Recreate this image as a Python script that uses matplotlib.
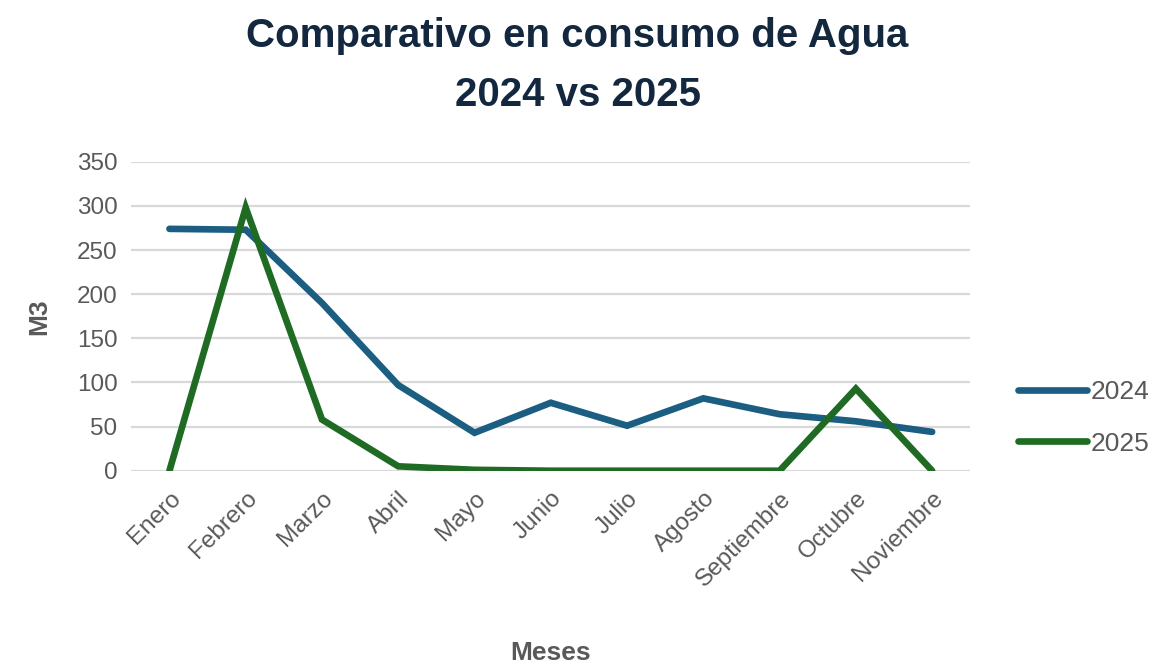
import matplotlib
matplotlib.use("Agg")
import matplotlib.pyplot as plt
import numpy as np

plt.rcParams.update({
    "font.family": ["Liberation Sans", "DejaVu Sans"],
})

meses = ["Enero", "Febrero", "Marzo", "Abril", "Mayo", "Junio",
         "Julio", "Agosto", "Septiembre", "Octubre", "Noviembre"]
consumo_2024 = [274, 273, 190, 97, 43, 77, 51, 82, 64, 56, 44]
consumo_2025 = [0, 298, 58, 5, 1, 0, 0, 0, 0, 93, 0]

C_2024 = "#1b5e82"
C_2025 = "#1f6b24"
C_TEXT = "#595959"
C_TITLE = "#13283f"

fig = plt.figure(figsize=(11.62, 6.63), dpi=100)
ax = fig.add_axes([0.113, 0.29, 0.722, 0.466])

x = np.arange(len(meses))
ax.plot(x, consumo_2024, color=C_2024, lw=4.8, solid_capstyle="round",
        solid_joinstyle="miter", label="2024")
ax.plot(x, consumo_2025, color=C_2025, lw=4.8, solid_capstyle="round",
        solid_joinstyle="miter", label="2025")

ax.set_xlim(-0.5, len(meses) - 0.5)
ax.set_ylim(0, 350)
ax.set_yticks(np.arange(0, 351, 50))
ax.yaxis.grid(True, color="#d9d9d9", lw=1.6)
ax.set_axisbelow(True)
for s in ax.spines.values():
    s.set_visible(False)
ax.tick_params(length=0, labelsize=17.5, colors=C_TEXT, pad=10)
ax.set_xticks(x)
ax.set_xticklabels(meses, rotation=45, ha="right", rotation_mode="anchor")
ax.tick_params(axis="x", pad=12)

ax.set_xlabel("Meses", fontsize=19, fontweight="bold", color=C_TEXT, labelpad=36)
ax.set_ylabel("M3", fontsize=19, fontweight="bold", color=C_TEXT, labelpad=18)

fig.suptitle("Comparativo en consumo de Agua\n2024 vs 2025",
             x=0.497, y=0.975, fontsize=29, fontweight="bold", color=C_TITLE,
             linespacing=1.7)

leg = fig.legend(loc="center left", bbox_to_anchor=(0.876, 0.37), frameon=False,
                 fontsize=19, handlelength=2.6, handletextpad=0.15, labelspacing=1.05,
                 borderpad=0, borderaxespad=0)
for t in leg.get_texts():
    t.set_color(C_TEXT)

fig.savefig("out.png", dpi=100)
